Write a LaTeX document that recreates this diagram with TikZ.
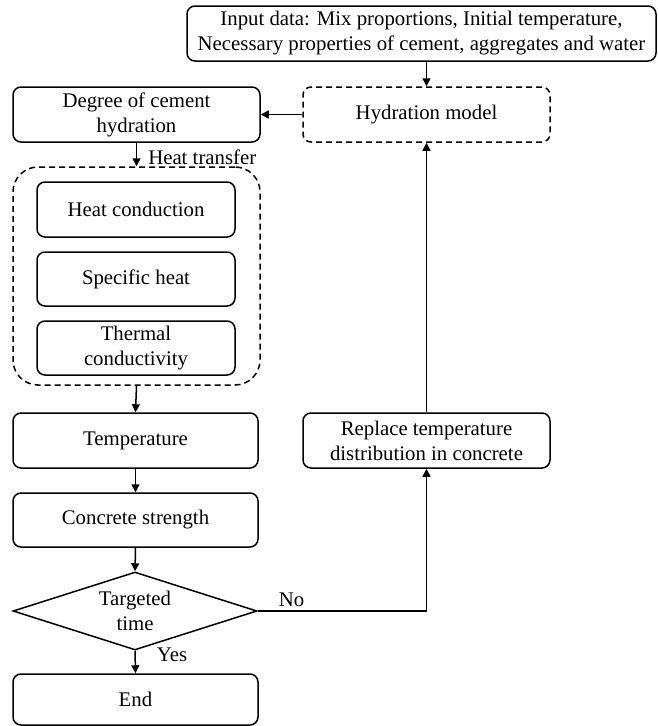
\documentclass[tikz,border=0pt]{standalone}
\usepackage{fontspec}
\setmainfont{Liberation Serif}
\newfontfamily\labelfont{Liberation Serif}
\usetikzlibrary{arrows.meta,shapes.geometric}
\begin{document}
\begin{tikzpicture}[x=1pt,y=-1pt,
  every node/.style={font=\labelfont\fontsize{20.8}{25}\selectfont, align=center, inner sep=0pt},
  box/.style={draw, line width=1.5pt, rounded corners=8pt, minimum width=#1, minimum height=55pt},
  box/.default=247pt,
  dbox/.style={box=#1, dash pattern=on 6pt off 4pt},
  dbox/.default=247pt,
  flow/.style={line width=1.5pt, -{Triangle[length=8pt,width=8pt]}},
  lbl/.style={font=\labelfont\fontsize{20.8}{24}\selectfont}]
\useasboundingbox (0,0) rectangle (658,726);

% top input box and hydration model
\node[box=469pt] (input) at (421.5,33.5) {Input data: Mix proportions, Initial temperature,\\Necessary properties of cement, aggregates and water};
\node[dbox] (hyd) at (426.5,114.5) {Hydration model};
\node[box] (deg) at (136.5,114.5) {Degree of cement\\hydration};

% heat transfer group
\node[draw, line width=1.5pt, dash pattern=on 6pt off 4pt, rounded corners=25pt,
      minimum width=247pt, minimum height=218pt] (grp) at (136.5,276) {};
\node[box=198pt] (hc) at (136,209.5) {Heat conduction};
\node[box=198pt, minimum height=54pt] (sh) at (136,279) {Specific heat};
\node[box=198pt, minimum height=54pt] (tc) at (136,348) {Thermal\\conductivity};

% main column
\node[box=245pt] (temp) at (135.5,440.5) {Temperature};
\node[box=245pt, minimum height=54pt] (cs) at (135.5,520) {Concrete strength};
\node[draw, diamond, shape aspect=3.13, line width=1.5pt, minimum width=244pt, minimum height=78pt] (dia) at (135,611) {Targeted\\time};
\node[box=245pt, minimum height=51pt] (end) at (135.5,699.5) {End};

% feedback branch
\node[box] (rep) at (426.5,440.5) {Replace temperature\\distribution in concrete};

% connectors
\draw[flow] (input.south -| hyd.north) -- (hyd.north);
\draw[flow] (hyd.west) -- (deg.east);
\draw[flow] (deg.south) -- (grp.north) node[lbl, anchor=west, pos=0.6, xshift=11pt] (ht) {Heat transfer};
\draw[flow] (grp.south) -- (temp.north);
\draw[flow] (temp.south) -- (cs.north);
\draw[flow] (cs.south) -- (dia.north);
\draw[flow] (dia.south) -- (end.north) node[lbl, anchor=west, pos=0.2, xshift=21pt] (yes) {Yes};
\draw[flow] (dia.east) -| (rep.south) node[lbl, pos=0.1, anchor=south, yshift=4pt] (no) {No};
\draw[flow] (rep.north) -- (hyd.south);
\end{tikzpicture}
\end{document}
